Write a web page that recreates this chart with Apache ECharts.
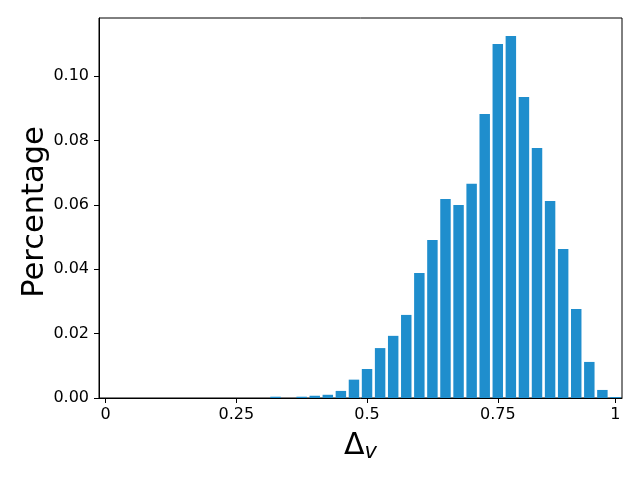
<!DOCTYPE html>
<html>
<head>
<meta charset="utf-8">
<script src="https://cdn.jsdelivr.net/npm/echarts@6/dist/echarts.min.js"></script>
<style>html,body{margin:0;padding:0;background:#fff}#c{width:640px;height:480px}</style>
</head>
<body>
<div id="c"></div>
<script>
// bin indices (40 bins)
const categories = Array.from({length: 40}, (_, i) => String(i));
// bar heights per bin
const values = [
  0, 0, 0, 0, 0, 0, 0, 0, 0, 0,
  0, 0, 0, 0.0004, 0, 0.0004, 0.0007, 0.0010, 0.0022, 0.0057,
  0.0090, 0.0155, 0.0193, 0.0258, 0.0388, 0.0491, 0.0618, 0.0599, 0.0665, 0.0882,
  0.1099, 0.1124, 0.0935, 0.0776, 0.0612, 0.0463, 0.0276, 0.0112, 0.0025, 0.0003
];
const xTickIndex = [0, 10, 20, 30, 39];
const xTickLabels = ['0', '0.25', '0.5', '0.75', '1'];
const yTicks = [0, 0.02, 0.04, 0.06, 0.08, 0.10];

const font = 'DejaVu Sans';
const chart = echarts.init(document.getElementById('c'), null, {renderer: 'canvas'});
chart.setOption({
  animation: false,
  grid: {left: 99, right: 18, top: 18, bottom: 82, show: true, borderColor: '#000', borderWidth: 1, backgroundColor: 'transparent'},
  xAxis: {
    type: 'category',
    data: categories,
    boundaryGap: true,
    name: '{d|Δ}{v|v}',
    nameLocation: 'middle',
    nameGap: 32,
    nameTextStyle: {
      rich: {
        d: {fontFamily: font, fontSize: 30, color: '#000'},
        v: {fontFamily: font, fontSize: 21, fontStyle: 'italic', color: '#000', padding: [12, 0, 0, 0]}
      }
    },
    axisLine: {show: true, lineStyle: {color: '#000', width: 1}},
    axisTick: {show: true, alignWithLabel: true, length: 5, lineStyle: {color: '#000', width: 1},
      interval: (i) => xTickIndex.includes(i)},
    axisLabel: {
      interval: (i) => xTickIndex.includes(i),
      formatter: (v, i) => { const k = xTickIndex.indexOf(Number(v)); return k >= 0 ? xTickLabels[k] : ''; },
      fontFamily: font, fontSize: 16, color: '#000', margin: 9
    },
    splitLine: {show: false}
  },
  yAxis: {
    type: 'value',
    min: 0, max: 0.118,
    name: 'Percentage',
    nameLocation: 'middle',
    nameGap: 48,
    nameMoveOverlap: false,
    nameTextStyle: {fontFamily: font, fontSize: 30.5, color: '#000', padding: [0, 8, 0, 0]},
    axisLine: {show: true, lineStyle: {color: '#000', width: 1}},
    axisTick: {show: true, length: 5, lineStyle: {color: '#000', width: 1}, customValues: yTicks},
    axisLabel: {customValues: yTicks, formatter: (v) => v.toFixed(2), fontFamily: font, fontSize: 16, color: '#000', margin: 10},
    splitLine: {show: false}
  },
  series: [{
    type: 'bar',
    data: values,
    barCategoryGap: '20%',
    itemStyle: {color: '#1f8ecd'}
  }]
});
</script>
</body>
</html>
